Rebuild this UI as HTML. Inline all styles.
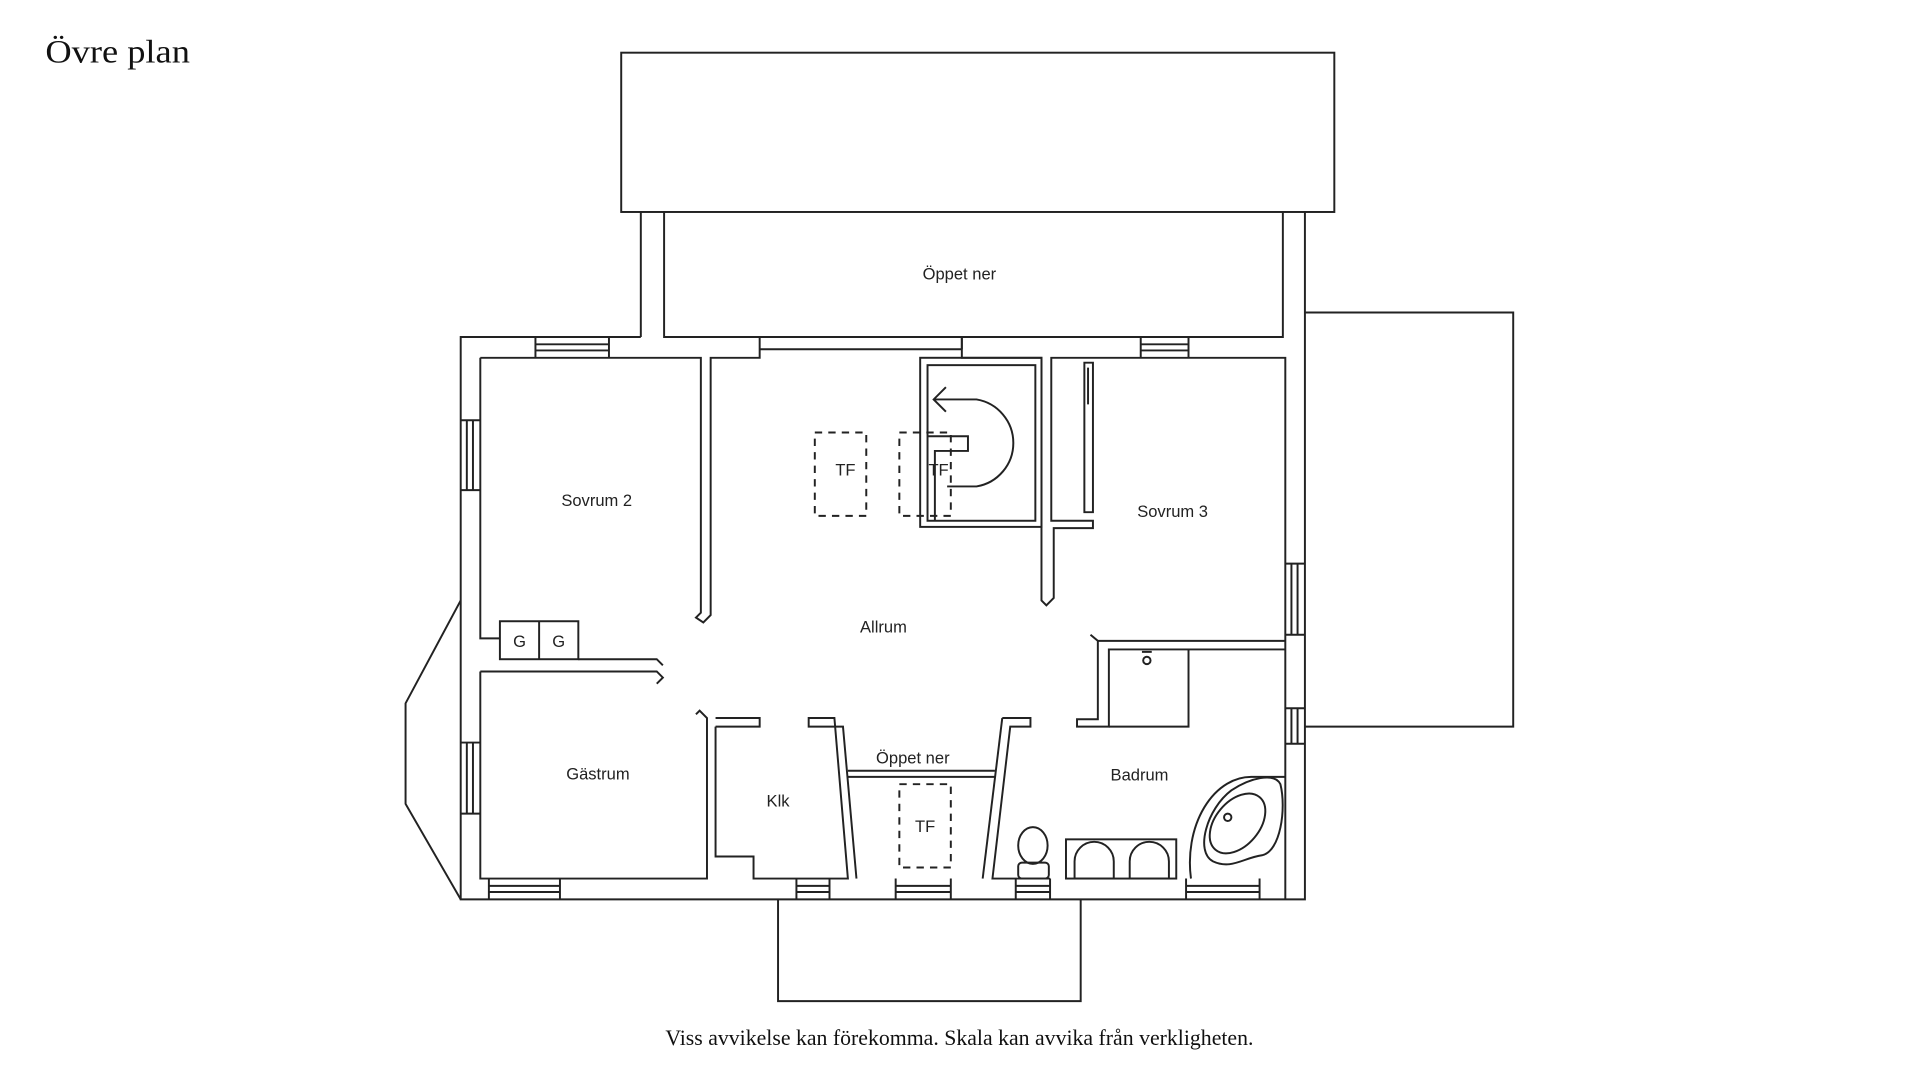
<!DOCTYPE html>
<html><head><meta charset="utf-8"><style>
html,body{margin:0;padding:0;background:#fff;width:1920px;height:1080px;overflow:hidden}
svg{display:block}
.l{fill:none;stroke:#222;stroke-width:1.6}
.d{fill:none;stroke:#222;stroke-width:1.6;stroke-dasharray:6 5}
.t{font-family:"Liberation Sans",sans-serif;font-size:13.5px;fill:#222;text-anchor:middle}
.s{font-family:"Liberation Serif",serif;fill:#111}
</style></head><body>
<svg width="1920" height="1080" viewBox="0 0 1567 881.4" preserveAspectRatio="none">
<text class="s" x="37" y="51" font-size="27" textLength="118" lengthAdjust="spacingAndGlyphs">Övre plan</text>
<text class="s" x="783" y="853" font-size="18" text-anchor="middle" textLength="480" lengthAdjust="spacingAndGlyphs">Viss avvikelse kan förekomma. Skala kan avvika från verkligheten.</text>

<rect class="l" x="507" y="43" width="582" height="130"/>
<path class="l" d="M523 173V275M542 173V275H1047V173M1065 173V734H376V275H523"/>
<text class="t" x="783" y="228">Öppet ner</text>
<path class="l" d="M1065 255H1235V593H1065"/>
<path class="l" d="M635 734V817H882V734"/>
<path class="l" d="M376 490L331 574V656L376 734"/>

<path class="l" d="M392 292H572V500L568 504L574 508L580 502V292H620V275M785 275V285M620 285H785"/>
<path class="l" d="M392 292V521H408"/>
<path class="l" d="M392 548V717H577V586L571 580L568 583M584 593V699H615V717H692L681 586H660V593H688L699 717"/>
<path class="l" d="M584 593H620V586H584"/>
<path class="l" d="M392 548H536L541 553L536 558"/>
<path class="l" d="M472 538H536L541 543"/>
<rect class="l" x="408" y="507" width="64" height="31"/><path class="l" d="M440 507V538"/>
<text class="t" x="424" y="528">G</text><text class="t" x="456" y="528">G</text>

<path class="l" d="M692 629H812M692 634H812"/>
<text class="t" x="745" y="623">Öppet ner</text>
<path class="l" d="M818 586H841V593H824.5L810 717H857"/>
<path class="l" d="M818 586L802 717"/>
<rect class="d" x="734" y="640" width="42" height="68"/>
<text class="t" x="755" y="679">TF</text>
<text class="t" x="635" y="658">Klk</text>
<text class="t" x="488" y="636">Gästrum</text>

<rect class="l" x="751" y="292" width="99" height="138"/>
<rect class="l" x="757" y="298" width="88" height="127"/>
<path class="l" d="M757 356H790V368H763V425"/>
<path class="l" d="M762 326H797A36 36 0 0 1 797 397H773M772 316L762 326L772 336"/>
<rect class="d" x="665" y="353" width="42" height="68"/>
<rect class="d" x="734" y="353" width="42" height="68"/>
<text class="t" x="690" y="388">TF</text><text class="t" x="766" y="388">TF</text>
<path class="l" d="M785 275V292H850V490L854 494L860 488V431H892V425H858V292H1049V734M931 275V292M970 275V292"/>
<path class="l" d="M885 296h7v122h-7z M888 300V330"/>
<text class="t" x="957" y="422">Sovrum 3</text>
<text class="t" x="487" y="413">Sovrum 2</text>
<text class="t" x="721" y="516">Allrum</text>

<path class="l" d="M890 518L896 523V587H879V593H905V530H1049M896 523H1049"/>
<path class="l" d="M905 593H970V530"/>
<circle class="l" cx="936" cy="539" r="3"/><path class="l" d="M932 532h8"/>
<text class="t" x="930" y="637">Badrum</text>
<rect class="l" x="870" y="685" width="90" height="32"/>
<path class="l" d="M877 717V703A16 16 0 0 1 909 703V717ZM922 717V703A16 16 0 0 1 954 703V717Z"/>
<ellipse class="l" cx="843" cy="690" rx="12" ry="15"/>
<rect class="l" x="831" y="704" width="25" height="13" rx="3"/>
<path class="l" d="M1049 634H1022A50 70 0 0 0 972 717"/>
<path class="l" d="M1045 640C1050 660 1045 695 1030 698C1015 700 1005 710 990 703C975 695 985 660 1005 645C1020 635 1040 630 1045 640Z"/>
<ellipse class="l" cx="1010" cy="672" rx="18" ry="28" transform="rotate(40 1010 672)"/>
<circle class="l" cx="1002" cy="667" r="3"/>

<g class="l">
<path d="M437 275V292M497 275V292M437 281H497M437 286H497"/>
<path d="M931 281H970M931 286H970"/>
<path d="M376 343H392M376 400H392M381 343V400M386 343V400"/>
<path d="M376 606H392M376 664H392M381 606V664M386 606V664"/>
<path d="M399 717V734M457 717V734M399 723H457M399 728H457"/>
<path d="M650 717V734M677 717V734M650 723H677M650 728H677"/>
<path d="M731 717V734M776 717V734M731 723H776M731 728H776"/>
<path d="M829 717V734M857 717V734M829 723H857M829 728H857"/>
<path d="M968 717V734M1028 717V734M968 723H1028M968 728H1028"/>
<path d="M1049 460H1065M1049 518H1065M1054 460V518M1059 460V518"/>
<path d="M1049 578H1065M1049 607H1065M1054 578V607M1059 578V607"/>
</g>
</svg>
</body></html>
